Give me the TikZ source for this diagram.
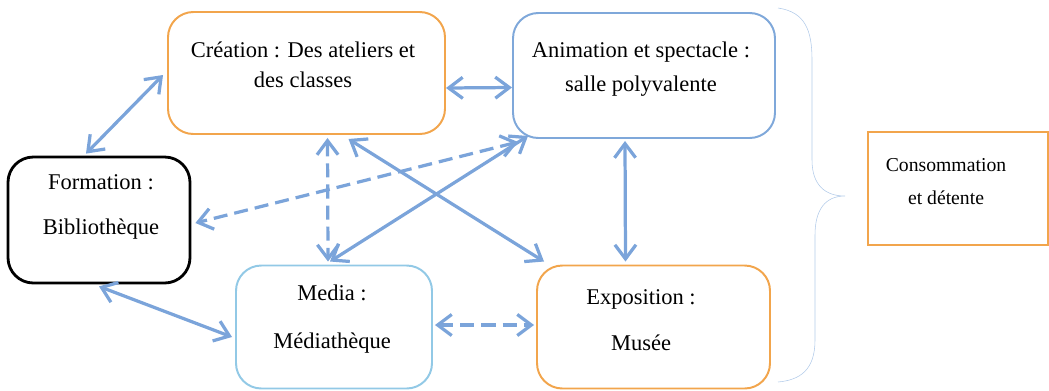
\documentclass[tikz,border=0pt]{standalone}
\usepackage{fontspec}
\setmainfont{Liberation Serif}
\usetikzlibrary{arrows.meta,calc}

\definecolor{lienbleu}{HTML}{7BA4DA}
\definecolor{orangebord}{HTML}{F2A54C}
\definecolor{bleubord}{HTML}{7FA8DA}
\definecolor{cyanbord}{HTML}{92C9E6}

\begin{document}
\begin{tikzpicture}[x=0.025cm,y=-0.025cm,
    boite/.style={draw,rounded corners=18,line width=1.4pt,fill=white},
    texte/.style={align=center,font=\fontsize{16}{21}\selectfont},
    lien/.style={draw=lienbleu,line width=2.3pt,{Straight Barb[length=10pt,width=15pt]}-{Straight Barb[length=10pt,width=15pt]}},
    lienpt/.style={lien,dash pattern=on 10pt off 5pt}]
    \useasboundingbox (0,0) rectangle (1049,390);
    \node[boite,draw=orangebord,minimum width=277*0.025cm,minimum height=122*0.025cm] (crea) at (306.5,73) {};
    \node[boite,draw=bleubord,minimum width=262*0.025cm,minimum height=125*0.025cm] (anim) at (644,75.5) {};
    \node[boite,draw=black,line width=2pt,minimum width=182*0.025cm,minimum height=126*0.025cm] (form) at (99,220) {};
    \node[boite,draw=cyanbord,minimum width=196*0.025cm,minimum height=123*0.025cm] (media) at (334,327) {};
    \node[boite,draw=orangebord,minimum width=233*0.025cm,minimum height=123*0.025cm] (expo) at (653.5,327) {};
    \node[draw=orangebord,line width=1.4pt,minimum width=180*0.025cm,minimum height=113*0.025cm] (conso) at (958,188.5) {};

    % les textes
    \node[texte] (crea-txt) at (303,65) {Création : Des ateliers et\\des classes};
    \node[texte] (anim-txt) at (641,69) {Animation et spectacle :\\[3pt]salle polyvalente};
    \node[texte] (form-txt) at (101,207) {Formation :\\[11pt]Bibliothèque};
    \node[texte] (media-txt) at (332,319) {Media :\\[13pt]Médiathèque};
    \node[texte] (expo-txt) at (641,320) {Exposition :\\[12pt]Musée};
    \node[texte,font=\fontsize{14}{19}\selectfont] (conso-txt) at (946,181.5) {Consommation\\[4pt]et détente};

    % accolade
    \draw[draw=bleubord!60,line width=0.4pt] (778,8) .. controls (805,12) and (812,30) .. (812,60)
        -- (812,160) .. controls (812,185) and (825,196) .. (845,196)
        .. controls (825,196) and (815,210) .. (815,235)
        -- (815,340) .. controls (815,370) and (800,380) .. (778,382);

    % liens
    \draw ($(form.north)+(-13,-2)$) edge[lien] ($(crea.west)+(-4,2)$)
          ($(crea.east)+(0,15)$) edge[lien] ($(anim.west)+(0,12)$)
          ($(crea.south)+(21,3)$) edge[lienpt] ($(media.north)+(-6,-3)$)
          ($(anim.south west)+(6,3)$) edge[lienpt] ($(form.east)+(4,3)$)
          ($(anim.south west)+(16,-3)$) edge[lien] ($(media.north)+(-4,-3)$)
          ($(crea.south)+(42,4)$) edge[lien] ($(expo.north west)+(8,-3)$)
          ($(anim.south)+(-19,2)$) edge[lien] ($(expo.north)+(-28,-3)$)
          ($(form.south)+(0,2)$) edge[lien] ($(media.west)+(-3,10)$)
          ($(media.east)+(2,-2)$) edge[lienpt] ($(expo.west)+(-2,-2)$);
\end{tikzpicture}
\end{document}
